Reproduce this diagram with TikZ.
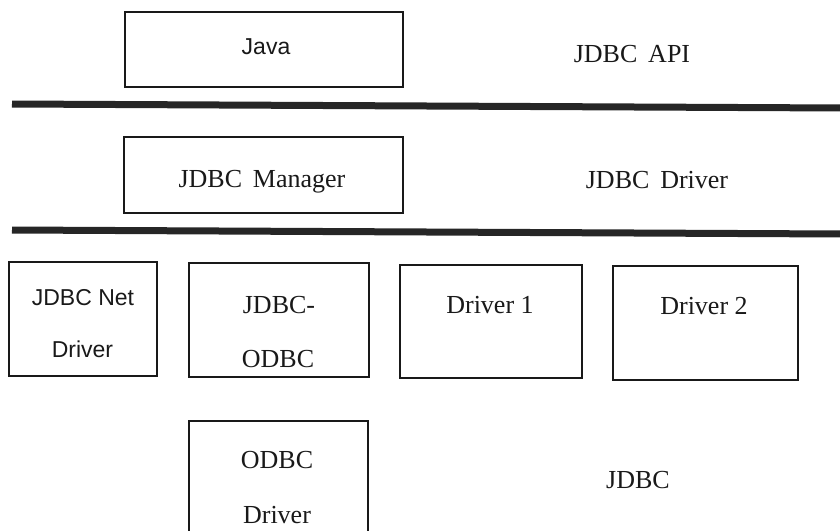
\documentclass[tikz,border=0pt]{standalone}
\usepackage{fontspec}
\setmainfont{Liberation Serif}
\setsansfont{Liberation Sans}
\begin{document}
\begin{tikzpicture}[x=1pt,y=-1pt,
  layerbox/.style={draw=black!90, line width=1.8pt, fill=none, inner sep=0pt},
  bar/.style={draw=black!85, line width=7pt},
  serif/.style={font=\fontsize{26}{30}\selectfont\rmfamily, anchor=base, inner sep=0pt, text=black!90},
  sans/.style={font=\fontsize{23}{27}\selectfont\sffamily, anchor=base, inner sep=0pt, text=black!90}]
\useasboundingbox (0,0) rectangle (840,530);
\clip (0,0) rectangle (840,530);

% boxes
\node[layerbox, minimum width=278pt, minimum height=75pt] (java) at (264,49.5) {};
\node[layerbox, minimum width=279pt, minimum height=76pt] (mgr) at (263.5,175) {};
\node[layerbox, minimum width=148pt, minimum height=114pt] (net) at (83,319) {};
\node[layerbox, minimum width=180pt, minimum height=114pt] (jo) at (279,320) {};
\node[layerbox, minimum width=182pt, minimum height=113pt] (d1) at (491,321.5) {};
\node[layerbox, minimum width=185pt, minimum height=114pt] (d2) at (705.5,323) {};
\node[layerbox, minimum width=179pt, minimum height=140pt] (odbc) at (278.5,491) {};

% separating bars
\coordinate (b1s) at (12,104);
\coordinate (b1e) at (842,108);
\coordinate (b2s) at (12,230);
\coordinate (b2e) at (842,234);
\draw[bar] (b1s) -- (b1e);
\draw[bar] (b2s) -- (b2e);

% texts
\node[sans] (tjava) at (266,54) {Java};
\node[serif] (tapi) at (632,62) {JDBC\, API};
\node[serif] (tmgr) at (262,187) {JDBC\, Manager};
\node[serif] (tdrv) at (657,188) {JDBC\, Driver};
\node[sans] (tnet1) at (83,305) {JDBC Net};
\node[sans] (tnet2) at (82.5,357) {Driver};
\node[serif] (tjo1) at (279,313) {JDBC-};
\node[serif] (tjo2) at (278,367) {ODBC};
\node[serif] (td1) at (490,313) {Driver 1};
\node[serif] (td2) at (704,314) {Driver 2};
\node[serif] (tod1) at (277,468) {ODBC};
\node[serif] (tod2) at (277,523) {Driver};
\node[serif] (tjdbc) at (638,488) {JDBC};
\end{tikzpicture}
\end{document}
